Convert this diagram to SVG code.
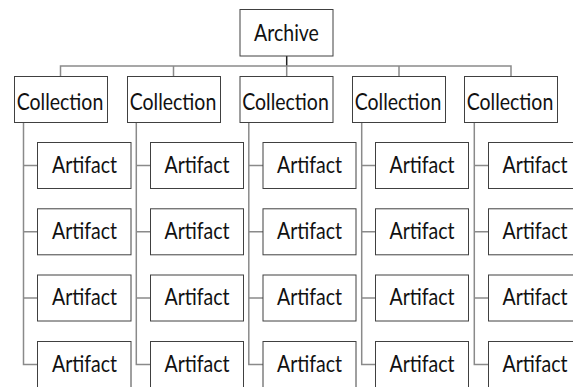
<svg xmlns="http://www.w3.org/2000/svg" width="573" height="387" viewBox="0 0 573 387">
  <style>
    .box { fill: #ffffff; stroke: #404040; stroke-width: 1; }
    .lbl { font-family: Lato, "Liberation Sans", sans-serif; font-size: 19.5px; fill: #111111; text-anchor: middle; }
    .wire { fill: none; stroke: #8a8a8a; stroke-width: 1.5; }
    .stem { fill: none; stroke: #222222; stroke-width: 1.5; }
  </style>
  <rect width="573" height="387" fill="#ffffff"/>

  <g id="connectors">
    <!-- root to bus -->
    <line class="stem" x1="286.7" y1="56" x2="286.7" y2="66"/>
    <!-- bus with drops to each collection -->
    <path class="wire" d="M60.5 76.5 V66 H511 V76.5 M173.5 66 V76.5 M286.7 66 V76.5 M399 66 V76.5"/>
    <!-- collection spines with artifact branches -->
    <path class="wire" d="M23.5 122.5 V364.5 H37.5 M23.5 165.5 H37.5 M23.5 231.8 H37.5 M23.5 298 H37.5"/>
    <path class="wire" d="M136.3 122.5 V364.5 H150.5 M136.3 165.5 H150.5 M136.3 231.8 H150.5 M136.3 298 H150.5"/>
    <path class="wire" d="M248.8 122.5 V364.5 H263 M248.8 165.5 H263 M248.8 231.8 H263 M248.8 298 H263"/>
    <path class="wire" d="M361.7 122.5 V364.5 H375.5 M361.7 165.5 H375.5 M361.7 231.8 H375.5 M361.7 298 H375.5"/>
    <path class="wire" d="M474.3 122.5 V364.5 H488.5 M474.3 165.5 H488.5 M474.3 231.8 H488.5 M474.3 298 H488.5"/>
  </g>

  <g id="archive">
    <rect class="box" x="240" y="9.5" width="93" height="46.5"/>
    <text class="lbl" transform="translate(286.5,40.5) scale(1,1.15)">Archive</text>
  </g>

  <g id="collection-1"><rect class="box" x="14.5" y="76.5" width="93" height="46"/><text class="lbl" transform="translate(60,110) scale(1,1.15)">Collection</text></g>
  <g id="collection-2"><rect class="box" x="127.5" y="76.5" width="93" height="46"/><text class="lbl" transform="translate(173,110) scale(1,1.15)">Collection</text></g>
  <g id="collection-3"><rect class="box" x="240" y="76.5" width="93" height="46"/><text class="lbl" transform="translate(285.5,110) scale(1,1.15)">Collection</text></g>
  <g id="collection-4"><rect class="box" x="352.5" y="76.5" width="93" height="46"/><text class="lbl" transform="translate(398,110) scale(1,1.15)">Collection</text></g>
  <g id="collection-5"><rect class="box" x="464.5" y="76.5" width="93" height="46"/><text class="lbl" transform="translate(510,110) scale(1,1.15)">Collection</text></g>

  <g id="artifact-1-1"><rect class="box" x="37.5" y="142.5" width="93.5" height="46"/><text class="lbl" transform="translate(84.5,172.7) scale(1,1.15)">Artifact</text></g>
  <g id="artifact-1-2"><rect class="box" x="37.5" y="208.8" width="93.5" height="46"/><text class="lbl" transform="translate(84.5,239) scale(1,1.15)">Artifact</text></g>
  <g id="artifact-1-3"><rect class="box" x="37.5" y="275" width="93.5" height="46"/><text class="lbl" transform="translate(84.5,305.3) scale(1,1.15)">Artifact</text></g>
  <g id="artifact-1-4"><rect class="box" x="37.5" y="341.5" width="93.5" height="46"/><text class="lbl" transform="translate(84.5,371.6) scale(1,1.15)">Artifact</text></g>

  <g id="artifact-2-1"><rect class="box" x="150.5" y="142.5" width="93" height="46"/><text class="lbl" transform="translate(197,172.7) scale(1,1.15)">Artifact</text></g>
  <g id="artifact-2-2"><rect class="box" x="150.5" y="208.8" width="93" height="46"/><text class="lbl" transform="translate(197,239) scale(1,1.15)">Artifact</text></g>
  <g id="artifact-2-3"><rect class="box" x="150.5" y="275" width="93" height="46"/><text class="lbl" transform="translate(197,305.3) scale(1,1.15)">Artifact</text></g>
  <g id="artifact-2-4"><rect class="box" x="150.5" y="341.5" width="93" height="46"/><text class="lbl" transform="translate(197,371.6) scale(1,1.15)">Artifact</text></g>

  <g id="artifact-3-1"><rect class="box" x="263" y="142.5" width="93" height="46"/><text class="lbl" transform="translate(309.5,172.7) scale(1,1.15)">Artifact</text></g>
  <g id="artifact-3-2"><rect class="box" x="263" y="208.8" width="93" height="46"/><text class="lbl" transform="translate(309.5,239) scale(1,1.15)">Artifact</text></g>
  <g id="artifact-3-3"><rect class="box" x="263" y="275" width="93" height="46"/><text class="lbl" transform="translate(309.5,305.3) scale(1,1.15)">Artifact</text></g>
  <g id="artifact-3-4"><rect class="box" x="263" y="341.5" width="93" height="46"/><text class="lbl" transform="translate(309.5,371.6) scale(1,1.15)">Artifact</text></g>

  <g id="artifact-4-1"><rect class="box" x="375.5" y="142.5" width="93" height="46"/><text class="lbl" transform="translate(422,172.7) scale(1,1.15)">Artifact</text></g>
  <g id="artifact-4-2"><rect class="box" x="375.5" y="208.8" width="93" height="46"/><text class="lbl" transform="translate(422,239) scale(1,1.15)">Artifact</text></g>
  <g id="artifact-4-3"><rect class="box" x="375.5" y="275" width="93" height="46"/><text class="lbl" transform="translate(422,305.3) scale(1,1.15)">Artifact</text></g>
  <g id="artifact-4-4"><rect class="box" x="375.5" y="341.5" width="93" height="46"/><text class="lbl" transform="translate(422,371.6) scale(1,1.15)">Artifact</text></g>

  <g id="artifact-5-1"><rect class="box" x="488.5" y="142.5" width="93" height="46"/><text class="lbl" transform="translate(535,172.7) scale(1,1.15)">Artifact</text></g>
  <g id="artifact-5-2"><rect class="box" x="488.5" y="208.8" width="93" height="46"/><text class="lbl" transform="translate(535,239) scale(1,1.15)">Artifact</text></g>
  <g id="artifact-5-3"><rect class="box" x="488.5" y="275" width="93" height="46"/><text class="lbl" transform="translate(535,305.3) scale(1,1.15)">Artifact</text></g>
  <g id="artifact-5-4"><rect class="box" x="488.5" y="341.5" width="93" height="46"/><text class="lbl" transform="translate(535,371.6) scale(1,1.15)">Artifact</text></g>
</svg>
